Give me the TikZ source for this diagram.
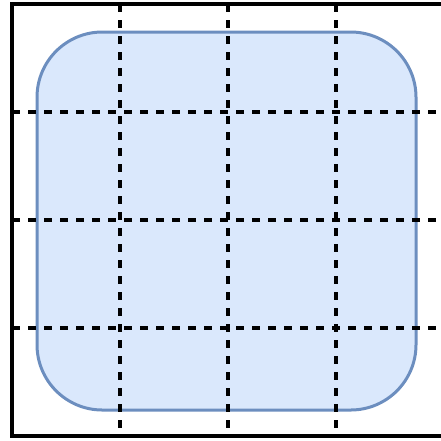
\documentclass[tikz,border=0pt]{standalone}
\usepackage{tikz}

\tikzset{every picture/.style={line width=0.75pt}}

\begin{document}
\begin{tikzpicture}[x=0.75pt,y=0.75pt,yscale=-1,xscale=1]
%set diagram left start at 0, and has height of 440
\useasboundingbox (0,0) rectangle (441,440);
\clip (0,0) rectangle (441,440);

%Rounded Rect [id:cell]
\draw  [color={rgb, 255:red, 108; green, 142; blue, 191 }  ,draw opacity=1 ][fill={rgb, 255:red, 218; green, 232; blue, 252 }  ,fill opacity=1 ][line width=2.25]  (37,32) [rounded corners=49] -- (416,32) -- (416,410) -- (37,410) -- cycle ;

%Straight Lines [id:gridv]
\foreach \gx in {120,228,336}
  \draw  [line width=2.5] [dash pattern={on 6pt off 6pt}]  (\gx,4) -- (\gx,436) ;
%Straight Lines [id:gridh]
\foreach \gy in {112,220,328}
  \draw  [line width=2.5] [dash pattern={on 6pt off 6pt}]  (12,\gy) -- (444,\gy) ;

%Shape: Square [id:frame]
\draw  [line width=3.5]  (12,4) -- (445,4) -- (445,436) -- (12,436) -- cycle ;

\end{tikzpicture}
\end{document}
